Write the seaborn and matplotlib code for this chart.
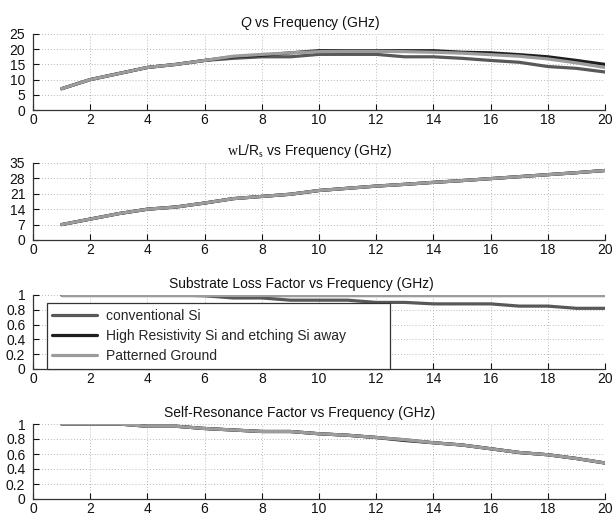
import matplotlib
matplotlib.use("Agg")
import matplotlib.pyplot as plt
import seaborn as sns
import pandas as pd
import numpy as np

freq = list(range(1, 21))
series = ["conventional Si", "High Resistivity Si and etching Si away", "Patterned Ground"]
colors = ["#585858", "#1e1e1e", "#9c9c9c"]

q_conv = [7, 10, 12, 14, 15, 16.3, 17, 17.5, 17.5, 18.3, 18.3, 18.3, 17.5, 17.5, 17, 16.3, 15.7, 14.3, 13.7, 12.5]
q_hr   = [7, 10, 12, 14, 15, 16.3, 17.5, 18, 18.8, 19.5, 19.5, 19.5, 19.5, 19.5, 19, 18.8, 18.2, 17.5, 16.3, 15]
q_pg   = [7, 10, 12, 14, 15, 16.3, 17.7, 18.3, 18.8, 19.2, 19.3, 19.3, 19.2, 19, 18.7, 18.2, 17.7, 16.8, 15.5, 14]

wl_conv = [7, 9.5, 12, 14, 15, 16.8, 18.8, 19.8, 20.8, 22.5, 23.5, 24.5, 25.3, 26.2, 27, 27.9, 28.8, 29.7, 30.6, 31.6]
wl_hr   = [7, 9.5, 12, 14, 15, 16.8, 18.8, 19.8, 20.8, 22.5, 23.5, 24.5, 25.3, 26.2, 27, 27.9, 28.8, 29.7, 30.6, 31.6]
wl_pg   = [7, 9.5, 12, 14, 15, 16.8, 18.8, 19.8, 20.8, 22.5, 23.5, 24.5, 25.3, 26.2, 27, 27.9, 28.8, 29.7, 30.6, 31.6]

sl_conv = [1, 1, 1, 1, 1, 0.99, 0.96, 0.96, 0.93, 0.93, 0.93, 0.9, 0.9, 0.88, 0.88, 0.88, 0.85, 0.85, 0.82, 0.82]
sl_hr   = [1.0] * 20
sl_pg   = [1.0] * 20

sr_conv = [1, 1, 1, 0.97, 0.97, 0.94, 0.92, 0.9, 0.9, 0.87, 0.85, 0.82, 0.79, 0.75, 0.72, 0.67, 0.62, 0.59, 0.54, 0.48]
sr_hr   = [1, 1, 1, 0.97, 0.97, 0.94, 0.92, 0.9, 0.9, 0.87, 0.85, 0.82, 0.78, 0.75, 0.72, 0.67, 0.62, 0.59, 0.54, 0.48]
sr_pg   = [1, 1, 1, 0.97, 0.97, 0.94, 0.92, 0.9, 0.9, 0.87, 0.85, 0.82, 0.79, 0.75, 0.72, 0.67, 0.62, 0.59, 0.54, 0.48]

titles = ["$Q$ vs Frequency (GHz)",
          "$\\mathsf{w}$L/R$_\\mathsf{s}$ vs Frequency (GHz)",
          "Substrate Loss Factor vs Frequency (GHz)",
          "Self-Resonance Factor vs Frequency (GHz)"]
yticks = [[0, 5, 10, 15, 20, 25], [0, 7, 14, 21, 28, 35],
          [0, 0.2, 0.4, 0.6, 0.8, 1], [0, 0.2, 0.4, 0.6, 0.8, 1]]
yticklabels = [["0", "5", "10", "15", "20", "25"], ["0", "7", "14", "21", "28", "35"],
               ["0", "0.2", "0.4", "0.6", "0.8", "1"], ["0", "0.2", "0.4", "0.6", "0.8", "1"]]
xticks = list(range(0, 21, 2))
data = [(q_conv, q_hr, q_pg), (wl_conv, wl_hr, wl_pg), (sl_conv, sl_hr, sl_pg), (sr_conv, sr_hr, sr_pg)]

sns.set_style("white")
plt.rcParams['font.family'] = ['Liberation Sans', 'DejaVu Sans']
plt.rcParams['mathtext.fontset'] = 'custom'
plt.rcParams['mathtext.rm'] = 'Liberation Sans'
plt.rcParams['mathtext.it'] = 'Liberation Sans:italic'
plt.rcParams['mathtext.sf'] = 'Liberation Serif'

fig = plt.figure(figsize=(6.14, 5.17), dpi=100)
W, H = 614, 517
boxes = [(34, 110), (163, 240), (295, 369), (424, 499)]
title_x = [0.484, 0.484, 0.469, 0.467]
pads = [5, 6, 5, 5]
for i, (top, bot) in enumerate(boxes):
    ax = fig.add_axes([33 / W, 1 - bot / H, 572 / W, (bot - top) / H])
    df = pd.DataFrame({
        "freq": freq * 3,
        "val": list(data[i][0]) + list(data[i][1]) + list(data[i][2]),
        "series": [series[0]] * 20 + [series[1]] * 20 + [series[2]] * 20,
    })
    sns.lineplot(data=df, x="freq", y="val", hue="series", hue_order=series,
                 palette=colors, linewidth=2.3, ax=ax, legend=(i == 2))
    ax.set_xlim(0, 20)
    ax.set_ylim(yticks[i][0], yticks[i][-1])
    ax.set_xticks(xticks)
    ax.set_xticklabels([str(t) for t in xticks])
    ax.set_yticks(yticks[i])
    ax.set_yticklabels(yticklabels[i])
    ax.set_xlabel("")
    ax.set_ylabel("")
    ax.grid(True, linestyle=(0, (1, 2.5)), color="#a0a0a0", linewidth=0.6)
    for s in ["top", "right"]:
        ax.spines[s].set_visible(False)
    for s in ["left", "bottom"]:
        ax.spines[s].set_color("#333333")
        ax.spines[s].set_linewidth(0.9)
    ax.tick_params(direction="in", length=4, width=0.8, labelsize=10,
                   colors="#111111", left=True, bottom=True)
    ax.tick_params(axis="y", pad=5.5)
    ax.tick_params(axis="x", pad=2.5)
    ax.set_title(titles[i], fontsize=10, pad=pads[i], color="#111111", x=title_x[i])
    if i == 2:
        leg = ax.legend(loc="lower left", bbox_to_anchor=(0.024, 0.005, 0.60, 0.8),
                        mode="expand", fontsize=10,
                        frameon=True, fancybox=False, edgecolor="#333333",
                        handlelength=3.25, handletextpad=0.6, borderpad=0.4,
                        labelspacing=0.45, borderaxespad=0)
        leg.get_frame().set_linewidth(0.9)
        leg.get_frame().set_alpha(1)
        for line in leg.get_lines():
            line.set_linewidth(2.3)

fig.savefig("out.png", dpi=100, facecolor="white")
